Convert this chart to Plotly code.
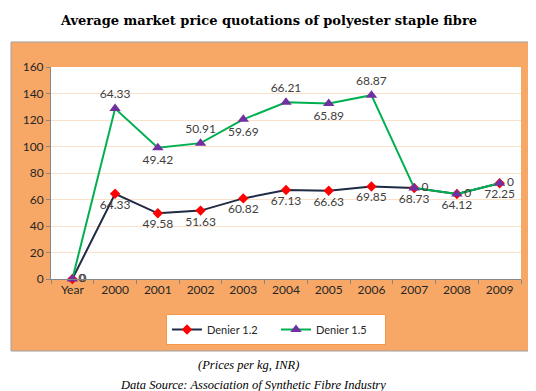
import plotly.graph_objects as go

categories = ["Year", "2000", "2001", "2002", "2003", "2004", "2005", "2006", "2007", "2008", "2009"]
denier_12 = [0, 64.33, 49.58, 51.63, 60.82, 67.13, 66.63, 69.85, 68.73, 64.12, 72.25]
denier_15 = [0, 64.33, 49.42, 50.91, 59.69, 66.21, 65.89, 68.87, 0, 0, 0]
y_ticks = [0, 20, 40, 60, 80, 100, 120, 140, 160]

# stacked line chart: Denier 1.5 plotted on top of Denier 1.2
stacked_15 = [a + b for a, b in zip(denier_12, denier_15)]

def fmt(v):
    return "0" if v == 0 else f"{v:.2f}"

pos_12 = ["middle right"] + ["bottom center"] * 10
pos_15 = ["middle right", "top center", "bottom center", "top center", "bottom center",
          "top center", "bottom center", "top center", "middle right", "middle right", "middle right"]

W, H = 536, 391
L, R, T, B = 43, 513, 59, 271
pw, ph = R - L, B - T

def px(x):
    return (x - L) / pw

def py(y):
    return (B - y) / ph

label_font = dict(family="Lato, sans-serif", size=12, color="#404040")

fig = go.Figure()
fig.add_trace(go.Scatter(
    x=categories, y=denier_12, name="Denier 1.2", mode="lines+markers+text",
    line=dict(color="#1F2A44", width=2),
    marker=dict(symbol="diamond", color="#FF0000", size=8),
    text=[fmt(v) for v in denier_12], textposition=pos_12, textfont=label_font,
    cliponaxis=False,
))
fig.add_trace(go.Scatter(
    x=categories, y=stacked_15, name="Denier 1.5", mode="lines+markers+text",
    line=dict(color="#00B050", width=2),
    marker=dict(symbol="triangle-up", color="#7030A0", size=10),
    text=[fmt(v) for v in denier_15], textposition=pos_15, textfont=label_font,
    cliponaxis=False,
))

# orange chart area
fig.add_shape(type="rect", xref="paper", yref="paper",
              x0=px(3), x1=px(532), y0=py(343), y1=py(34),
              fillcolor="#F8A866", line=dict(color="#A0A0A0", width=1), layer="below")
# white plot area
fig.add_shape(type="rect", xref="paper", yref="paper",
              x0=0, x1=1, y0=0, y1=1,
              fillcolor="white", line=dict(width=0), layer="below")

fig.update_layout(
    width=W, height=H,
    margin=dict(l=L, r=W - R, t=T, b=H - B),
    paper_bgcolor="white", plot_bgcolor="white",
    font=dict(family="Lato, sans-serif", size=12, color="#262626"),
    title=dict(text="<b>Average market price quotations of polyester staple fibre</b>",
               x=px(261), xref="paper", xanchor="center",
               y=1 - 12 / H, yanchor="middle",
               font=dict(family="DejaVu Serif, serif", size=13, color="#000000")),
    xaxis=dict(type="category", range=[-0.5, 10.5], showgrid=False,
               showline=True, linecolor="#868686", linewidth=1,
               ticks="outside", ticklen=4, tickcolor="#868686", tickson="boundaries",
               tickfont=dict(family="Lato, sans-serif", size=12, color="#262626"),
               fixedrange=True),
    yaxis=dict(range=[0, 160], tickvals=y_ticks, showgrid=True, gridcolor="#FCE1CA",
               gridwidth=1, zeroline=False,
               showline=True, linecolor="#868686", linewidth=1,
               ticks="outside", ticklen=4, tickcolor="#868686",
               tickfont=dict(family="Lato, sans-serif", size=12, color="#262626"),
               fixedrange=True),
    legend=dict(orientation="h", x=px(268), xanchor="center", y=py(306), yanchor="top",
                bgcolor="white", bordercolor="#F79646", borderwidth=1,
                font=dict(family="Lato, sans-serif", size=11, color="#262626"),
                itemwidth=30, entrywidth=64, tracegroupgap=0),
    showlegend=True,
)

fig.add_annotation(text="<i>(Prices per kg, INR)</i>", xref="paper", yref="paper",
                   x=px(240), y=py(357), showarrow=False, xanchor="center", yanchor="middle",
                   font=dict(family="Liberation Serif, serif", size=12.5, color="#000000"))
fig.add_annotation(text="<i>Data Source: Association of Synthetic Fibre Industry</i>",
                   xref="paper", yref="paper",
                   x=px(245), y=py(377), showarrow=False, xanchor="center", yanchor="middle",
                   font=dict(family="Liberation Serif, serif", size=12.5, color="#000000"))

fig.write_html("out.html")
